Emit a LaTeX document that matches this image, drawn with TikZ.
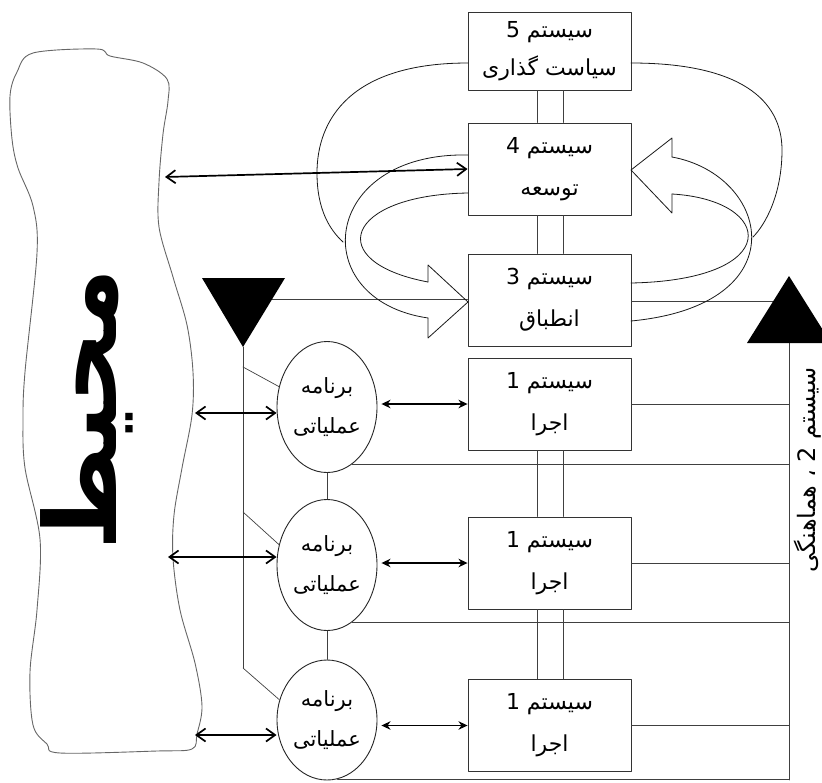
\documentclass[tikz,border=0pt]{standalone}
\usepackage{fontspec}
\newfontfamily\arfont[Script=Arabic]{DejaVu Sans}
\TeXXeTstate=1
\newcommand{\fatext}[1]{\beginR #1\endR}
\usetikzlibrary{arrows.meta,shapes.geometric,calc}
\tikzset{
  every picture/.style={line cap=round, line join=round},
  boxfont/.style={font=\arfont\fontsize{22}{42}\selectfont},
  sysbox/.style={draw=black!80, line width=0.9pt, fill=white, minimum width=163pt,
    minimum height=92pt, inner sep=0pt, align=center, boxfont},
  opunit/.style={ellipse, draw=black!85, line width=0.9pt, fill=white, minimum width=100pt,
    minimum height=131pt, inner sep=0pt, align=center, font=\arfont\fontsize{21}{40}\selectfont},
  linkline/.style={black!75, line width=0.7pt},
  loopline/.style={black!90, line width=0.8pt},
  envarrow/.style={line width=1.7pt, {Straight Barb[length=3.2mm,width=4.6mm]}-{Straight Barb[length=3.2mm,width=4.6mm]}},
  unitarrow/.style={line width=1.2pt, {Stealth[length=3.2mm,width=3mm]}-{Stealth[length=3.2mm,width=3mm]}},
}
\begin{document}
\begin{tikzpicture}[x=1pt, y=-1pt]
\useasboundingbox (0,0) rectangle (822,782);
\clip (0,0) rectangle (822,782);
% environment
\draw[black!60, line width=0.9pt] plot[smooth cycle, tension=0.55] coordinates {
  (33,53) (97,49) (110,56) (143,63) (167,79) (168,101) (163,134) (159,182) (159,227)
  (173,277) (187,325) (193,372) (192,415) (182,468) (174,515) (173,558) (180,610)
  (195,663) (202,706) (197,734) (192,749) (157,751) (60,753) (47,744) (33,725)
  (30,672) (37,610) (40,539) (25,468) (23,420) (25,372) (37,253) (33,206) (18,168)
  (12,139) (10,96) (17,72)};
\node[rotate=90, font=\arfont\bfseries\fontsize{100}{100}\selectfont] (env) at (87,410) {\fatext{محیط}};
% policy, intelligence and control
\node[sysbox, minimum height=78pt, font=\arfont\fontsize{22}{38}\selectfont] (s5) at (549.5,51)
  {\fatext{سیستم 5}\\\fatext{سیاست گذاری}};
\node[sysbox] (s4) at (549.5,169) {\fatext{سیستم 4}\\\fatext{توسعه}};
\node[sysbox] (s3) at (549.5,300) {\fatext{سیستم 3}\\\fatext{انطباق}};
% operations
\foreach \n/\y in {a/404,b/563,c/725.5}
  \node[sysbox] (s1\n) at (549.5,\y) {\fatext{سیستم 1}\\\fatext{اجرا}};
\node[opunit] (e1) at (327,407) {\fatext{برنامه}\\\fatext{عملیاتی}};
\node[opunit] (e2) at (327,565) {\fatext{برنامه}\\\fatext{عملیاتی}};
\node[opunit, minimum height=120pt] (e3) at (327,720) {\fatext{برنامه}\\\fatext{عملیاتی}};
% double links between boxes
\foreach \a/\b in {s5/s4,s4/s3,s1a/s1b,s1b/s1c}
  \foreach \dx in {-12pt,14pt}
    \draw[linkline] ([xshift=\dx]\a.south) -- ([xshift=\dx]\b.north);
% coordination bus on the right
\coordinate (busTop) at (789,343);
\coordinate (busBot) at (789,780);
\draw[linkline] (busTop) -- (busBot);
\foreach \n in {a,b,c} \draw[linkline] (s1\n.east) -- (s1\n.east -| busTop);
\foreach \e in {e1,e2} \draw[linkline] (\e.-66) -- (\e.-66 -| busTop);
\draw[linkline] (e3.-80) -- (e3.-80 -| busBot);
\coordinate (triR) at (780,301);
\draw[linkline] (s3.east |- triR) -- (triR);
\fill (747,343) -- (789,276) -- (831,343) -- cycle;
% monitoring channel on the left
\coordinate (tipL) at (243,347);
\coordinate (triL) at (270,299);
\draw[linkline] (triL) -- (triL -| s3.west);
\draw[linkline] (tipL) -- (243,668);
\foreach \e/\y in {e1/367,e2/512,e3/668} {
  \coordinate (br\e) at (243,\y);
  \draw[linkline] (br\e) -- (\e.157);
}
\fill (202,278) -- (285,278) -- (tipL) -- cycle;
\draw[linkline] (e1.south) -- (e2.north);
\draw[linkline] (e2.south) -- (e3.north);
% policy loop
\draw[loopline] (468,63) .. controls (350,63) and (317,120) .. (317,173)
  .. controls (317,210) and (330,230) .. (343,242);
\draw[loopline] (631,63) .. controls (740,63) and (782,100) .. (782,150)
  .. controls (782,195) and (765,225) .. (753,237);
% open arrow from 4 to 3
\draw[loopline] (468,155) .. controls (320,152) and (305,300) .. (428,318);
\draw[loopline] (468,193) .. controls (345,195) and (322,262) .. (428,282);
\draw[loopline] (428,282) -- (428,265) -- (468,302) -- (428,338) -- (428,318);
% open arrow from 3 to 4
\draw[loopline] (672,157) .. controls (770,175) and (800,305) .. (631,321);
\draw[loopline] (672,194) .. controls (775,200) and (785,280) .. (631,283);
\draw[loopline] (672,157) -- (672,138) -- (631,170) -- (672,213) -- (672,194);
% links to the environment
\coordinate (envS4) at (165,177);
\coordinate (envE1) at (195,413);
\coordinate (envE2) at (168,557);
\coordinate (envE3) at (195,735);
\draw[envarrow] (envS4) -- (s4.west);
\foreach \c/\e in {envE1/e1,envE2/e2,envE3/e3}
  \draw[envarrow] (\c) -- (\c -| \e.west);
\foreach \n/\e in {a/e1,b/e2,c/e3}
  \draw[unitarrow, shorten <=4pt] (s1\n.west -| \e.east) -- (s1\n.west);
\node[rotate=90, font=\arfont\fontsize{24}{24}\selectfont] (s2) at (808,470)
  {\fatext{سیستم 2 ، هماهنگی}};
\end{tikzpicture}
\end{document}
